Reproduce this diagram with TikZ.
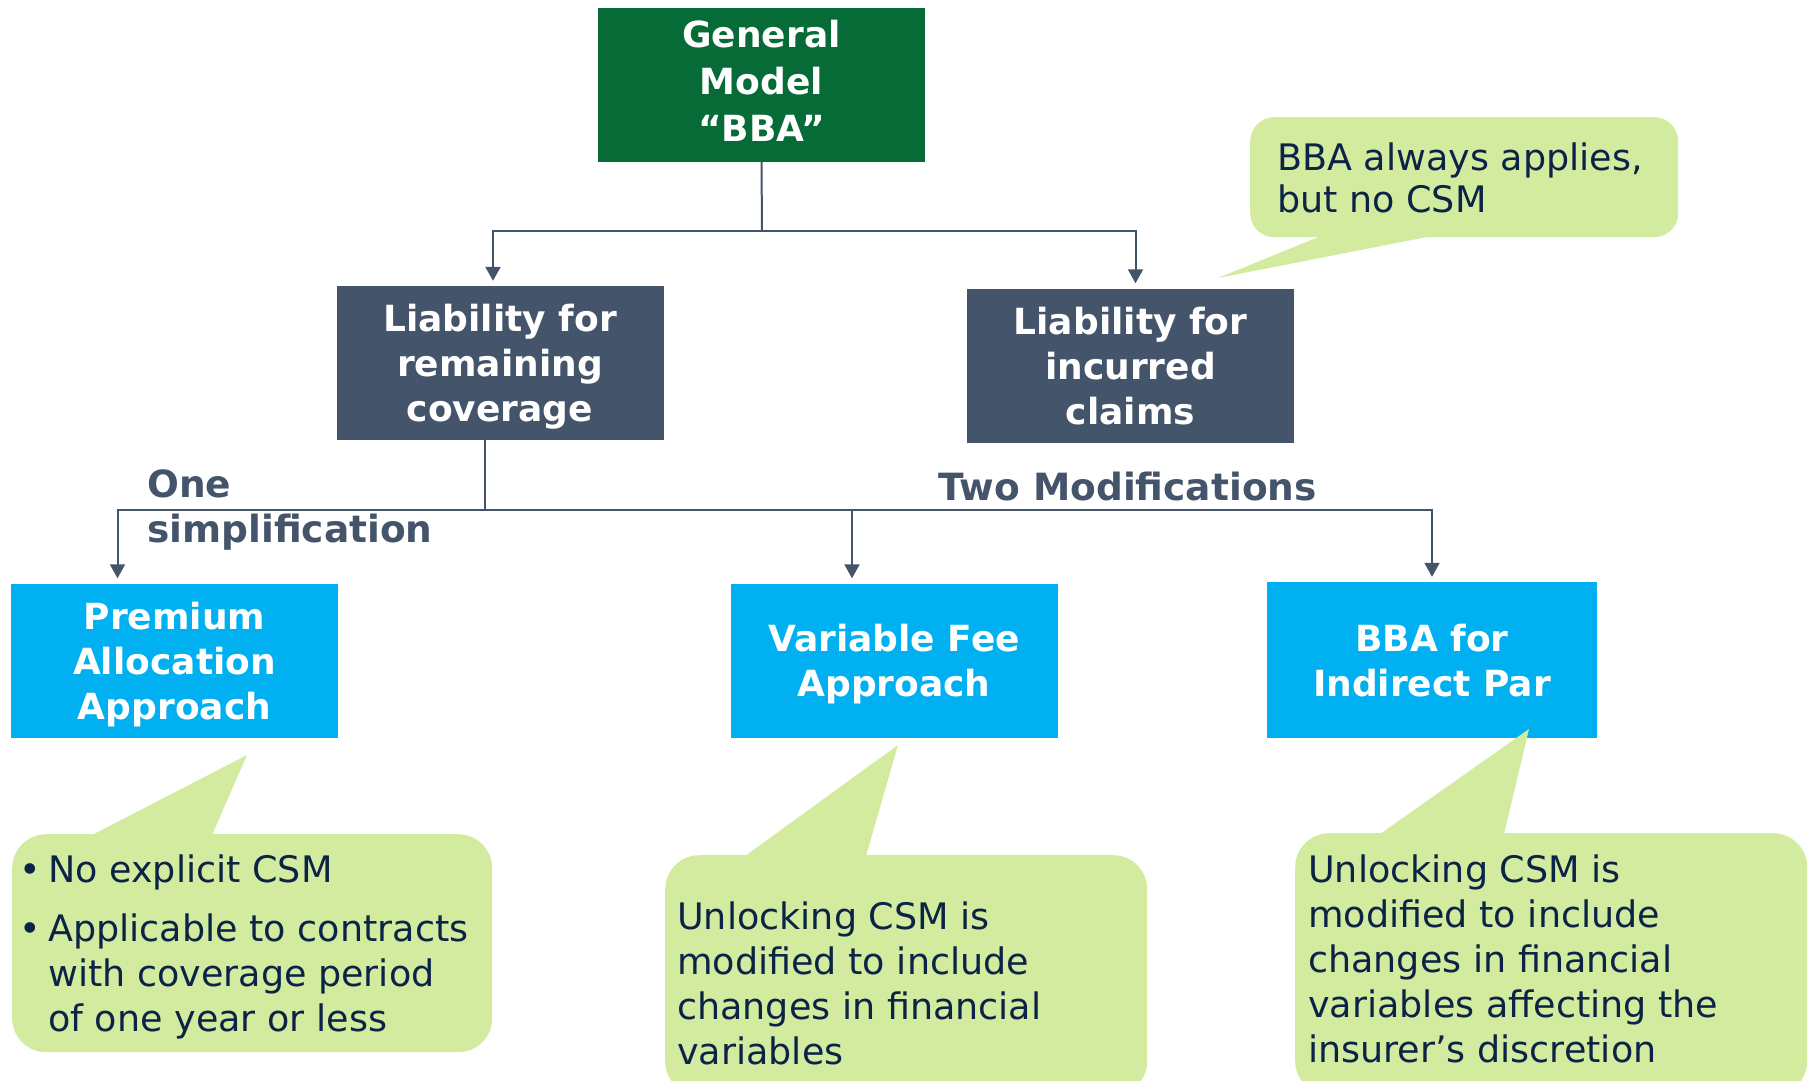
\documentclass[tikz,border=0pt]{standalone}
\usepackage{fontspec}
\setmainfont{DejaVu Sans}
\usetikzlibrary{arrows.meta,positioning}

\definecolor{gmgreen}{HTML}{076B38}
\definecolor{slate}{HTML}{44546A}
\definecolor{skyblue}{HTML}{00B0F0}
\definecolor{lime}{HTML}{D3EB9F}
\definecolor{navy}{HTML}{0B2346}

\tikzset{
  box/.style={minimum width=327pt, minimum height=154pt, inner sep=0pt, align=center,
    text=white, text depth=0pt, font=\fontsize{36}{45}\selectfont\bfseries},
  gmbox/.style={box, fill=gmgreen, text depth=8pt, font=\fontsize{36}{47}\selectfont\bfseries},
  liabbox/.style={box, fill=slate},
  apprbox/.style={box, fill=skyblue},
  bubble/.style={fill=lime, rounded corners=34pt, inner sep=0pt, anchor=north west},
  note/.style={text=navy, align=left, inner sep=0pt, anchor=north west,
    font=\fontsize{36.5}{45}\selectfont},
  branch/.style={text=slate, align=left, inner sep=0pt, anchor=north west,
    font=\fontsize{37.5}{45}\selectfont\bfseries},
  link/.style={draw=slate, line width=2pt},
  linkarrow/.style={link, -{Triangle[length=14pt,width=15pt]}, shorten >=5pt}
}

\begin{document}
\begin{tikzpicture}[x=1pt, y=-1pt] % one unit = one pixel, y grows downwards
\useasboundingbox (0,0) rectangle (1814,1080);

% boxes
\node[gmbox] (gm) at (761.5,85) {General\\Model\\“BBA”};
\node[liabbox] (lrc) at (500,363) {Liability for\\remaining\\coverage};
\node[liabbox] (lic) at (1130.5,365.5) {Liability for\\incurred\\claims};
\node[apprbox] (paa) at (174.5,660.5) {Premium\\Allocation\\Approach};
\node[apprbox] (vfa) at (894,660.5) {Variable Fee\\Approach};
\node[apprbox, minimum width=330pt, minimum height=156pt] (bip) at (1432,660) {BBA for\\Indirect Par};

% connectors
\coordinate (bus1) at (762,231);
\coordinate (bus2) at (485,510);
\draw[link] (gm.south) -- (bus1);
\draw[linkarrow] (bus1) -| ([xshift=-7pt]lrc.north);
\draw[linkarrow] (bus1) -| ([xshift=5pt]lic.north);
\draw[link] ([xshift=-15pt]lrc.south) -- (bus2);
\draw[linkarrow] (bus2) -| ([xshift=-57pt]paa.north);
\draw[linkarrow] (bus2) -| ([xshift=-42pt]vfa.north);
\draw[linkarrow] (bus2) -| (bip.north);

\node[branch] (simpl) at (147,469) {One\\simplification};
\node[branch] (modif) at (938,472) {Two Modifications};

% callouts
\node[bubble, rounded corners=24pt, minimum width=428pt, minimum height=120pt] (licnote) at (1250,117) {};
\coordinate (lictip) at (1218,278);
\fill[lime] ([xshift=70pt,yshift=1pt]licnote.south west) -- (lictip) -- ([xshift=180pt,yshift=1pt]licnote.south west) -- cycle;
\node[note, font=\fontsize{36.5}{42}\selectfont] at (1277,143) {BBA always applies,\\but no CSM};

\node[bubble, minimum width=480pt, minimum height=218pt] (paanote) at (12,834) {};
\coordinate (paatip) at (247,755);
\fill[lime] ([xshift=80pt,yshift=-1pt]paanote.north west) -- (paatip) -- ([xshift=200pt,yshift=-1pt]paanote.north west) -- cycle;
\node[note] at (19,855) {\makebox[29pt][l]{•}No explicit CSM\\[14pt]
  \makebox[29pt][l]{•}Applicable to contracts\\
  \hspace*{29pt}with coverage period\\
  \hspace*{29pt}of one year or less};

\node[bubble, minimum width=482pt, minimum height=240pt] (vfanote) at (665,855) {};
\coordinate (vfatip) at (898,745);
\fill[lime] ([xshift=80pt,yshift=-1pt]vfanote.north west) -- (vfatip) -- ([xshift=201pt,yshift=-1pt]vfanote.north west) -- cycle;
\node[note] at (677,902) {Unlocking CSM is\\modified to include\\changes in financial\\variables};

\node[bubble, minimum width=512pt, minimum height=262pt] (bipnote) at (1295,833) {};
\coordinate (biptip) at (1529,729);
\fill[lime] ([xshift=85pt,yshift=-1pt]bipnote.north west) -- (biptip) -- ([xshift=209pt,yshift=-1pt]bipnote.north west) -- cycle;
\node[note] at (1308,855) {Unlocking CSM is\\modified to include\\changes in financial\\variables affecting the\\insurer’s discretion};
\end{tikzpicture}
\end{document}
